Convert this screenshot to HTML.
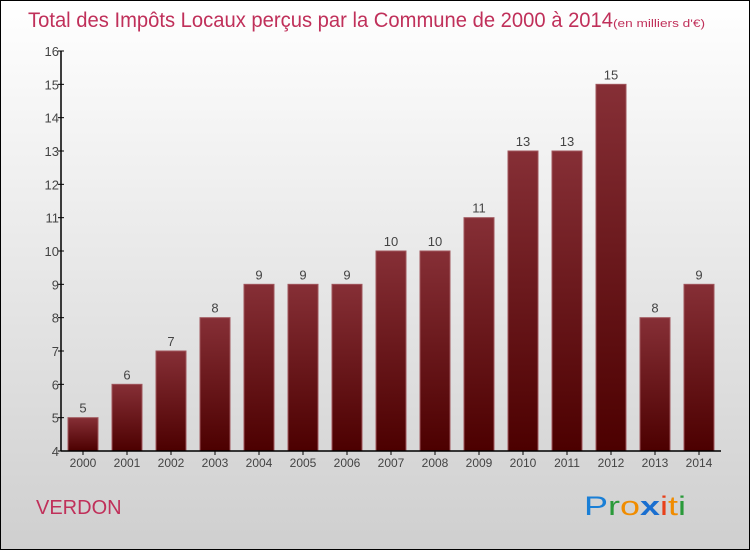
<!DOCTYPE html>
<html><head><meta charset="utf-8"><style>
body{margin:0}
#c{position:relative;width:748px;height:548px;border:1px solid #000;background:linear-gradient(#fff,#cfcfcf);font-family:"Liberation Sans",sans-serif;overflow:hidden}
</style></head><body>
<div id="c">
<svg id="s" width="748" height="548" xmlns="http://www.w3.org/2000/svg">
<defs><linearGradient id="g" x1="0" y1="0" x2="0" y2="1"><stop offset="0" stop-color="#862f36"/><stop offset="1" stop-color="#4c0000"/></linearGradient></defs>
<text x="27" y="26" font-size="21" fill="#c0305a" textLength="585" lengthAdjust="spacingAndGlyphs">Total des Impôts Locaux perçus par la Commune de 2000 à 2014</text>
<text x="612" y="26" font-size="11" fill="#c0305a" textLength="92" lengthAdjust="spacingAndGlyphs">(en milliers d'€)</text>
<text x="35" y="513" font-size="20" fill="#c0305a">VERDON</text>
<text x="583" y="514" font-size="27" textLength="102" lengthAdjust="spacingAndGlyphs"><tspan fill="#1a7fd6">P</tspan><tspan fill="#2a9a3a">r</tspan><tspan fill="#f08c00">o</tspan><tspan fill="#1a6fd0" font-weight="bold">x</tspan><tspan fill="#e8401a">i</tspan><tspan fill="#f08c00">t</tspan><tspan fill="#2a9a3a">i</tspan></text>
<g id="plot"></g>
</svg>
</div>
<script>
const years=["2000","2001","2002","2003","2004","2005","2006","2007","2008","2009","2010","2011","2012","2013","2014"];
const values=[5,6,7,8,9,9,9,10,10,11,13,13,15,8,9];
const yTicks=[4,5,6,7,8,9,10,11,12,13,14,15,16];
const NS="http://www.w3.org/2000/svg";
const g=document.getElementById('plot');
const y=v=>450-(v-4)*400/12;
const x=i=>82+i*44;
function el(t,a,txt){const e=document.createElementNS(NS,t);for(const k in a)e.setAttribute(k,a[k]);if(txt!==undefined)e.textContent=txt;g.appendChild(e);return e;}
values.forEach((v,i)=>{
 const r=el('rect',{x:x(i)-15,y:y(v),width:30,height:450-y(v),fill:'url(#g)',stroke:'#a0565c','stroke-width':1});
 
 
 const t=el('text',{x:x(i),y:y(v)-5,'text-anchor':'middle','font-size':13,fill:'#444'},v);
 
 
 const xl=el('text',{x:x(i),y:466,'text-anchor':'middle','font-size':12,fill:'#444'},years[i]);
 
 
 el('line',{x1:x(i),x2:x(i),y1:450,y2:454,stroke:'#000'});
});
yTicks.forEach(v=>{
 el('line',{x1:57,x2:63,y1:y(v),y2:y(v),stroke:'#000'});
 const t=el('text',{x:58,y:y(v)+5,'text-anchor':'end','font-size':13,fill:'#444'},v);
 
 
});
const ya=el('line',{x1:60,x2:60,y1:50,y2:450,stroke:'#000','stroke-width':1.5});


const xa=el('line',{x1:60,x2:720,y1:450,y2:450,stroke:'#000','stroke-width':1.5});


</script>
</body></html>
